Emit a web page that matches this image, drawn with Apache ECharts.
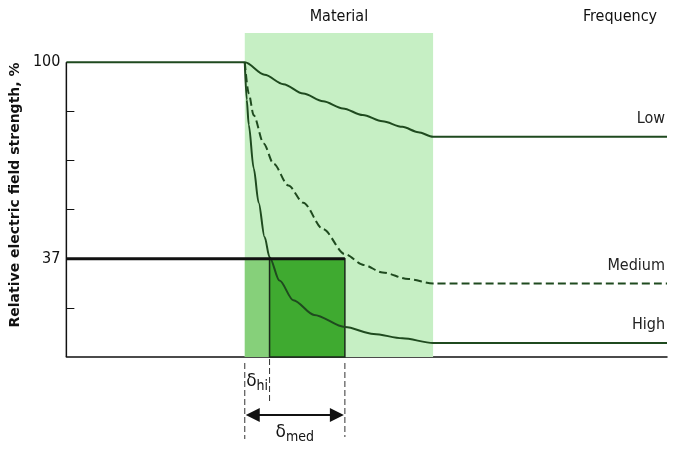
<!DOCTYPE html><html><head><meta charset="utf-8">
<script src="https://cdn.jsdelivr.net/npm/echarts@6/dist/echarts.min.js"></script>
<style>body{margin:0}#c{width:686px;height:450px}</style></head><body><div id="c"></div>
<script>
// x: depth units (0..606), y: relative field strength %
const yMin = 5.5, yMax = 109.4, xMax = 606;
const yTicks = [100, 84.25, 68.5, 52.75, 37, 21.25];
const yLabels = [100, 37];
const material = [180, 370];
const deltaHi = 205, deltaMed = 281;
const low = [[0,100],[180,100],[200,96],[219,93],[239,90],[259,87.5],[279,85.2],[299,83.1],[319,81.1],[339,79.3],[355,77.6],[370,76.1],[606,76.1]];
const medium = [[180,100],[184,90],[189,83],[199,74],[209,67.5],[224,60.5],[239,55],[259,46.5],[281,38.5],[300,35],[319,32.6],[345,30.5],[370,29.1],[606,29.1]];
const high = [[180,100],[182,88],[184,80],[189,66],[194,55],[200,44],[205,37.5],[215,30],[229,23.7],[250,19],[281,15.1],[310,12.9],[339,11.5],[370,10],[606,10]];
const lineColor = '#1f4a1f';
const chart = echarts.init(document.getElementById('c'));
const ln = (name, data, type) => ({type:'line', name, data, showSymbol:false, smooth:0.3, smoothMonotone:'x', z:5,
  lineStyle:{color:lineColor, width:2, type:type||'solid'},
  endLabel:{show:true, formatter:name, color:'#222', fontSize:16, fontFamily:'DejaVu Sans Condensed', offset:[-10,-18], align:'right'}});
chart.setOption({
  animation:false,
  grid:{left:61, right:19, top:33, bottom:93},
  xAxis:{type:'value', min:0, max:xMax, axisLine:{onZero:false, lineStyle:{color:'#111', width:1.5}}, axisTick:{show:false}, axisLabel:{show:false}, splitLine:{show:false}},
  yAxis:{type:'value', min:yMin, max:yMax, axisLine:{show:false}, splitLine:{show:false},
    axisTick:{show:true, inside:true, length:8, customValues:yTicks, lineStyle:{color:'#111'}},
    axisLabel:{customValues:yLabels, color:'#111', fontSize:16, fontFamily:'DejaVu Sans Condensed', margin:6},
    name:'Relative electric field strength, %', nameLocation:'middle', nameGap:42, nameRotate:90,
    nameTextStyle:{fontWeight:'bold', fontSize:14, color:'#111', fontFamily:'DejaVu Sans'}},
  series:[
    {type:'line', data:[[0,yMin],[0,100]], showSymbol:false, lineStyle:{color:'#111', width:1.5}, z:6,
     markArea:{silent:true, data:[
       [{xAxis:material[0], yAxis:yMin, itemStyle:{color:'#c6efc4'}},{xAxis:material[1], yAxis:yMax}],
       [{xAxis:material[0], yAxis:yMin, itemStyle:{color:'#86d07a'}},{xAxis:deltaHi, yAxis:37}],
       [{xAxis:deltaHi, yAxis:yMin, itemStyle:{color:'#3faa30', borderColor:'#1a2a1a', borderWidth:1.5}},{xAxis:deltaMed, yAxis:37}]
     ]}},
    {type:'line', data:[[0,37],[deltaMed,37]], showSymbol:false, lineStyle:{color:'#111', width:3}, z:6},
    ln('Low', low), ln('Medium', medium, [8,4]), ln('High', high)
  ]
});
const p = (x,y)=>chart.convertToPixel({gridIndex:0},[x,y]);
const x0=p(material[0],0)[0], xh=p(deltaHi,0)[0], xm=p(deltaMed,0)[0], yb=p(0,yMin)[1], yt=p(0,yMax)[1];
const dash={stroke:'#333', lineWidth:1, lineDash:[6,3]};
const rich={a:{fontSize:17,fontFamily:'DejaVu Sans'},b:{fontSize:14,padding:[8,0,0,0],fontFamily:'DejaVu Sans Condensed'}};
const txt=(x,y,t,o)=>({type:'text', x, y, style:Object.assign({text:t, fill:'#111', fontSize:16, fontFamily:'DejaVu Sans Condensed', align:'center', verticalAlign:'middle'},o||{})});
chart.setOption({graphic:[
  {type:'line', shape:{x1:x0,y1:yb+6,x2:x0,y2:yb+82}, style:dash},
  {type:'line', shape:{x1:xh,y1:yb+2,x2:xh,y2:yb+45}, style:dash},
  {type:'line', shape:{x1:xm,y1:yb+6,x2:xm,y2:yb+80}, style:dash},
  {type:'line', shape:{x1:x0+12,y1:yb+58,x2:xm-12,y2:yb+58}, style:{stroke:'#111', lineWidth:2}},
  {type:'polygon', shape:{points:[[x0+1,yb+58],[x0+15,yb+51],[x0+15,yb+65]]}, style:{fill:'#111'}},
  {type:'polygon', shape:{points:[[xm-1,yb+58],[xm-15,yb+51],[xm-15,yb+65]]}, style:{fill:'#111'}},
  txt((x0+xh)/2, yb+25, '{a|δ}{b|hi}', {rich}),
  txt((x0+xm)/2, yb+76, '{a|δ}{b|med}', {rich}),
  txt((x0+p(material[1],0)[0])/2, yt-16, 'Material'),
  txt(620, yt-16, 'Frequency')
]});
</script></body></html>
